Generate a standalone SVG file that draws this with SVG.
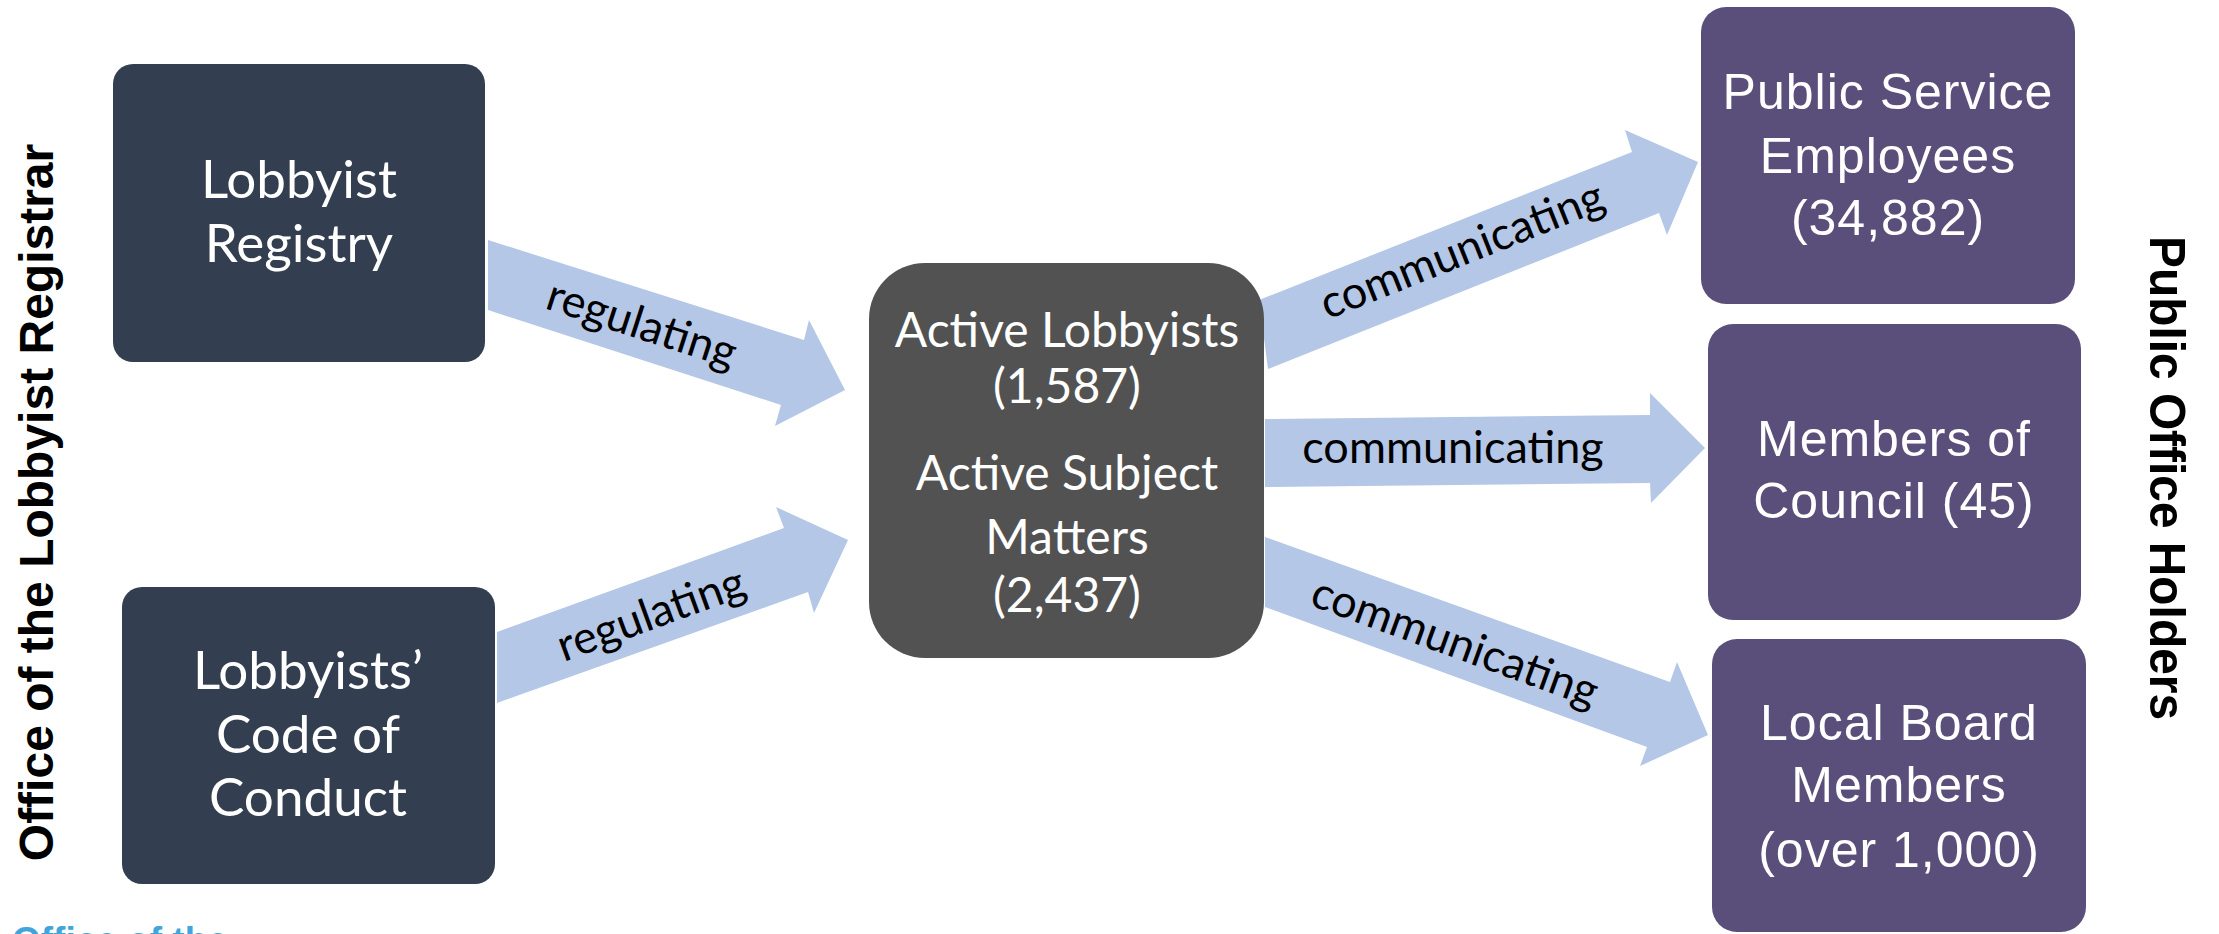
<svg xmlns="http://www.w3.org/2000/svg" width="2219" height="934" viewBox="0 0 2219 934">
<style>
.arrow{fill:#B4C7E7}
.lbl{font-family:Lato,"Open Sans",sans-serif;font-size:45px;fill:#000;text-anchor:middle}
.nl{font-family:Lato,"Open Sans",sans-serif;fill:#fff;text-anchor:middle}
.nr{font-family:"Liberation Sans",Arial,sans-serif;font-size:50px;fill:#fff;text-anchor:middle;letter-spacing:1px}
.dark{fill:#333F50}
.mid{fill:#525252}
.purple{fill:#5A4F7A}
.title{font-family:"Liberation Sans",Arial,sans-serif;font-weight:bold;fill:#000}
</style>
<rect width="2219" height="934" fill="#fff"/>
<g id="connectors">
<polygon class="arrow" points="488,240 804,340 809,320 845,390 775,426 781,405 488,310"/>
<polygon class="arrow" points="497,632 784,528 776,507 848,540 814,613 808,592 497,703"/>
<polygon class="arrow" points="1259,300 1632,152 1625,130 1698,162 1667,235 1659,213 1268,369"/>
<polygon class="arrow" points="1265,419 1650,415 1650,393 1705,448 1651,503 1650,483 1265,487"/>
<polygon class="arrow" points="1265,537 1670,682 1677,662 1708,735 1640,766 1647,747 1265,607"/>
<text class="lbl" transform="translate(641,327) rotate(18)" y="12">regulating</text>
<text class="lbl" transform="translate(652,617) rotate(-20)" y="12">regulating</text>
<text class="lbl" transform="translate(1463,253) rotate(-21.7)" y="12">communicating</text>
<text class="lbl" x="1453" y="463">communicating</text>
<text class="lbl" transform="translate(1454,645) rotate(20)" y="12">communicating</text>
</g>
<g id="title-left">
<text class="title" font-size="48" text-anchor="middle" transform="translate(52.5,502.5) rotate(-90)">Office of the Lobbyist Registrar</text>
</g>
<g id="title-right">
<text class="title" font-family="'Liberation Sans Narrow','Liberation Sans',sans-serif" font-size="50" text-anchor="middle" textLength="484" lengthAdjust="spacingAndGlyphs" transform="translate(2150,478) rotate(90)">Public Office Holders</text>
</g>
<g id="footer">
<text x="12" y="953" font-family="'Liberation Sans',Arial,sans-serif" font-weight="bold" font-size="37" fill="#41A5DC">Office of the</text>
</g>
<g id="node-registry">
<rect class="dark" x="113" y="64" width="372" height="298" rx="20"/>
<text class="nl" font-size="53" x="299" y="198">Lobbyist</text>
<text class="nl" font-size="53" x="299" y="262">Registry</text>
</g>
<g id="node-code">
<rect class="dark" x="122" y="587" width="373" height="297" rx="20"/>
<text class="nl" font-size="53" x="308" y="689">Lobbyists’</text>
<text class="nl" font-size="53" x="308" y="753">Code of</text>
<text class="nl" font-size="53" x="308" y="816">Conduct</text>
</g>
<g id="node-active">
<rect class="mid" x="869" y="263" width="395" height="395" rx="56"/>
<text class="nl" font-size="48" x="1067" y="347">Active Lobbyists</text>
<text class="nl" font-size="48" x="1067" y="403">(1,587)</text>
<text class="nl" font-size="48" x="1067" y="490">Active Subject</text>
<text class="nl" font-size="48" x="1067" y="554">Matters</text>
<text class="nl" font-size="48" x="1067" y="612">(2,437)</text>
</g>
<g id="node-pse">
<rect class="purple" x="1701" y="7" width="374" height="297" rx="25"/>
<text class="nr" x="1888" y="109">Public Service</text>
<text class="nr" x="1888" y="173">Employees</text>
<text class="nr" x="1888" y="235">(34,882)</text>
</g>
<g id="node-council">
<rect class="purple" x="1708" y="324" width="373" height="296" rx="25"/>
<text class="nr" x="1894" y="456">Members of</text>
<text class="nr" x="1894" y="518">Council (45)</text>
</g>
<g id="node-board">
<rect class="purple" x="1712" y="639" width="374" height="293" rx="25"/>
<text class="nr" x="1899" y="740">Local Board</text>
<text class="nr" x="1899" y="802">Members</text>
<text class="nr" x="1899" y="867">(over 1,000)</text>
</g>
</svg>
